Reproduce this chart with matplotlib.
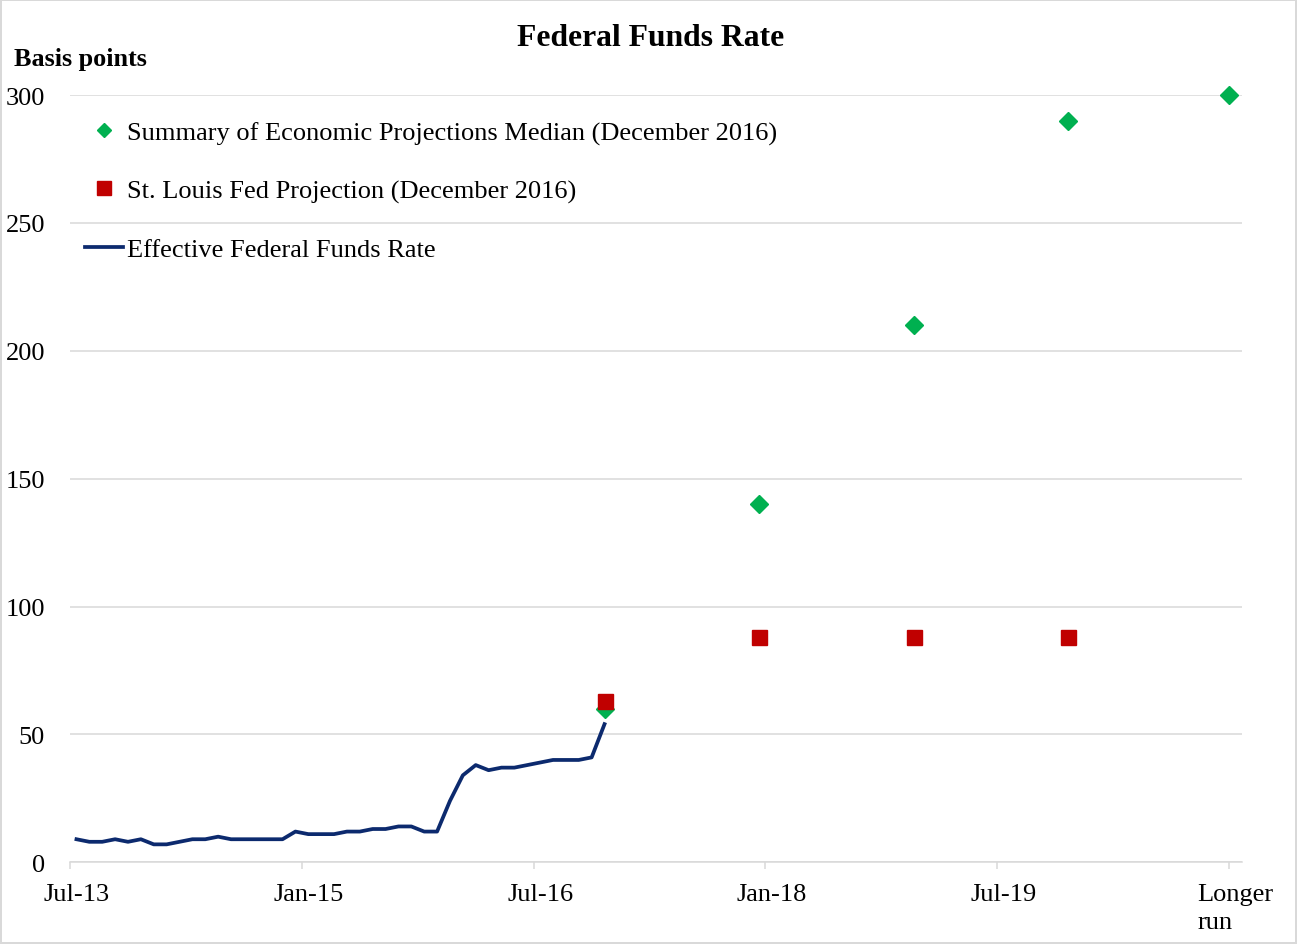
import matplotlib.pyplot as plt
from matplotlib.lines import Line2D
import numpy as np

plt.rcParams['font.family'] = ['Liberation Serif', 'DejaVu Serif']

# monthly effective fed funds rate, Jul-13 .. Dec-16 (basis points)
effr = [9, 8, 8, 9, 8, 9,
        7, 7, 8, 9, 9, 10, 9, 9, 9, 9, 9, 12,
        11, 11, 11, 12, 12, 13, 13, 14, 14, 12, 12, 24,
        34, 38, 36, 37, 37, 38, 39, 40, 40, 40, 41, 54]

# projections (month index from Jul-13; last one is "Longer run")
sep_x = [41, 53, 65, 77, 89.5]
sep_median = [60, 140, 210, 290, 300]
stl_x = [41, 53, 65, 77]
stl_proj = [63, 88, 88, 88]

tick_pos = [0, 18, 36, 54, 72, 90]
tick_labels = ['Jul-13', 'Jan-15', 'Jul-16', 'Jan-18', 'Jul-19', 'Longer\nrun']

navy = '#0c2a6e'
green = '#00b050'
red = '#c00000'
grid = '#d9d9d9'

fig = plt.figure(figsize=(12.97, 9.45), dpi=100)
fig.patch.set_edgecolor(grid)
fig.patch.set_linewidth(1.5)
ax = fig.add_axes([0.054, 0.0865, 0.9036, 0.8119])

ax.plot(np.arange(len(effr)), effr, color=navy, lw=2.7, zorder=3)
ax.plot(sep_x, sep_median, ls='none', marker='D', ms=9, color=green, clip_on=False, zorder=4)
ax.plot(stl_x, stl_proj, ls='none', marker='s', ms=10.8, color=red, clip_on=False, zorder=5)

ax.set_xlim(-0.5, 90.5)
ax.set_ylim(0, 300)
ax.set_yticks([0, 50, 100, 150, 200, 250, 300])
ax.yaxis.grid(True, color=grid, lw=1.1)
ax.set_axisbelow(True)
for s in ['top', 'right', 'left']:
    ax.spines[s].set_visible(False)
ax.spines['bottom'].set_color(grid)
ax.spines['bottom'].set_linewidth(1.1)

ax.set_xticks(tick_pos)
ax.set_xticklabels(tick_labels, multialignment='left', linespacing=1.35)
ax.set_xticks([p - 0.5 for p in tick_pos], minor=True)
ax.tick_params(axis='x', which='major', length=0, pad=15, labelsize=19)
ax.tick_params(axis='x', which='minor', length=5, color=grid, width=1.1)
ax.tick_params(axis='y', length=0, pad=18, labelsize=19)

fig.text(0.502, 0.959, 'Federal Funds Rate', ha='center', va='center',
         fontsize=22.8, fontweight='bold')
fig.text(0.011, 0.937, 'Basis points', ha='left', va='center',
         fontsize=18.8, fontweight='bold')

handles = [
    Line2D([], [], ls='none', marker='D', ms=7, color=green),
    Line2D([], [], ls='none', marker='s', ms=10.5, color=red),
    Line2D([], [], color=navy, lw=2.7),
]
labels = ['Summary of Economic Projections Median (December 2016)',
          'St. Louis Fed Projection (December 2016)',
          'Effective Federal Funds Rate']
ax.legend(handles, labels, loc='upper left', bbox_to_anchor=(85 / 1297, 1 - 122 / 945),
          bbox_transform=fig.transFigure, frameon=False, fontsize=19,
          handlelength=1.45, handletextpad=0.15, labelspacing=1.3, borderpad=0,
          borderaxespad=0)

fig.savefig('out.png', dpi=100)
